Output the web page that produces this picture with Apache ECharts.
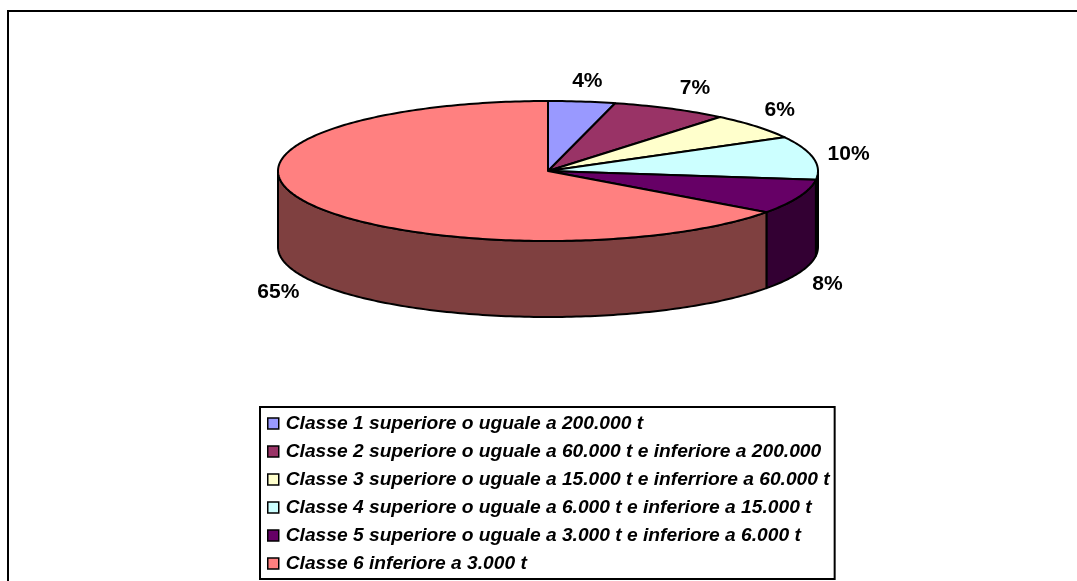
<!DOCTYPE html>
<html>
<head>
<meta charset="utf-8">
<style>
html,body{margin:0;padding:0;background:#fff;}
#charts{width:1077px;height:581px;}
</style>
<script src="https://cdn.jsdelivr.net/npm/echarts@6/dist/echarts.min.js"></script>
</head>
<body>
<div id="charts"></div>
<script>
var classNames = [
    'Classe 1 superiore o uguale a 200.000 t',
    'Classe 2 superiore o uguale a 60.000 t e inferiore a 200.000',
    'Classe 3 superiore o uguale a 15.000 t e inferriore a 60.000 t',
    'Classe 4 superiore o uguale a 6.000 t e inferiore a 15.000 t',
    'Classe 5 superiore o uguale a 3.000 t e inferiore a 6.000 t',
    'Classe 6 inferiore a 3.000 t'
];
var classValues = [4, 7, 6, 10, 8, 65];
var classColors = ['#9999FF', '#993366', '#FFFFCC', '#CCFFFF', '#660066', '#FF8080'];

// pie geometry, the 3D look is an ellipse plus a wall
var cx = 548, cy = 171, rx = 270, ry = 70, depth = 76;
var labelRx = 306, labelRy = 96;
// small hand nudges for the percent labels
var labelNudge = [[1, 3], [8, 1], [-4, -2], [0, -1], [-5, 0], [3, 0]];
var total = classValues.reduce(function (a, b) { return a + b; }, 0);

function rimPoint(deg, down) {
    var a = deg * Math.PI / 180;
    return [cx + rx * Math.sin(a), cy - ry * Math.cos(a) + (down || 0)];
}

// wall colour is the top colour at half brightness
function darker(hex) {
    var n = parseInt(hex.slice(1), 16);
    return 'rgb(' + (n >> 17 & 127) + ',' + (n >> 9 & 127) + ',' + (n >> 1 & 127) + ')';
}

function sliceRenderer(index) {
    var before = 0;
    for (var i = 0; i < index; i++) before += classValues[i];
    return function (params, api) {
        var start = before / total * 360;
        var end = start + api.value(0) / total * 360;
        var children = [];
        var a;

        // wall, only the front half of the pie shows it
        var from = Math.max(start, 90), to = Math.min(end, 270);
        if (to > from) {
            var wallTop = [], wallBottom = [];
            for (a = from; a < to; a += 1) {
                wallTop.push(rimPoint(a));
                wallBottom.unshift(rimPoint(a, depth));
            }
            wallTop.push(rimPoint(to));
            wallBottom.unshift(rimPoint(to, depth));
            children.push({
                type: 'polygon',
                shape: { points: wallTop.concat(wallBottom) },
                style: { fill: darker(classColors[index]), stroke: '#000', lineWidth: 2, lineJoin: 'round' }
            });
        }

        // top face
        var top = [[cx, cy]];
        for (a = start; a < end; a += 1) top.push(rimPoint(a));
        top.push(rimPoint(end));
        children.push({
            type: 'polygon',
            shape: { points: top },
            style: { fill: classColors[index], stroke: '#000', lineWidth: 2, lineJoin: 'round' }
        });

        // percent label outside the rim
        var mid = (start + end) / 2 * Math.PI / 180;
        var ly = cy - labelRy * Math.cos(mid) + 2;
        if (Math.cos(mid) < 0) ly += depth;
        children.push({
            type: 'text',
            z2: 10,
            style: {
                x: cx + labelRx * Math.sin(mid) + labelNudge[index][0],
                y: ly + labelNudge[index][1],
                text: api.value(0) + '%',
                fill: '#000',
                font: 'bold 21px "Liberation Sans", Arial, sans-serif',
                align: 'center',
                verticalAlign: 'middle'
            }
        });
        return { type: 'group', children: children };
    };
}

var myChart = echarts.init(document.getElementById('charts'));

var series = classNames.map(function (name, i) {
    return {
        name: name,
        type: 'custom',
        coordinateSystem: 'none',
        itemStyle: { color: classColors[i] },
        renderItem: sliceRenderer(i),
        silent: true,
        data: [[classValues[i]]]
    };
});

myChart.setOption({
    animation: false,
    backgroundColor: '#fff',
    tooltip: { show: false },
    legend: {
        orient: 'vertical',
        left: 260,
        top: 407,
        padding: [7, 5, 6, 7],
        itemWidth: 11,
        itemHeight: 11,
        itemGap: 9,
        selectedMode: false,
        backgroundColor: '#fff',
        borderColor: '#000',
        borderWidth: 2,
        borderRadius: 0,
        icon: 'rect',
        itemStyle: { borderColor: '#000', borderWidth: 1.5 },
        textStyle: {
            color: '#000',
            fontFamily: '"Liberation Sans", Arial, sans-serif',
            fontWeight: 'bold',
            fontStyle: 'italic',
            fontSize: 19.2,
            padding: [0, 0, 0, 2]
        },
        data: classNames
    },
    graphic: [{
        type: 'polyline',
        shape: { points: [[8, 581], [8, 11], [1077, 11]] },
        style: { fill: null, stroke: '#000', lineWidth: 2 },
        silent: true
    }],
    series: series
});

window.addEventListener('resize', function () {
    myChart.resize();
});
</script>
</body>
</html>
